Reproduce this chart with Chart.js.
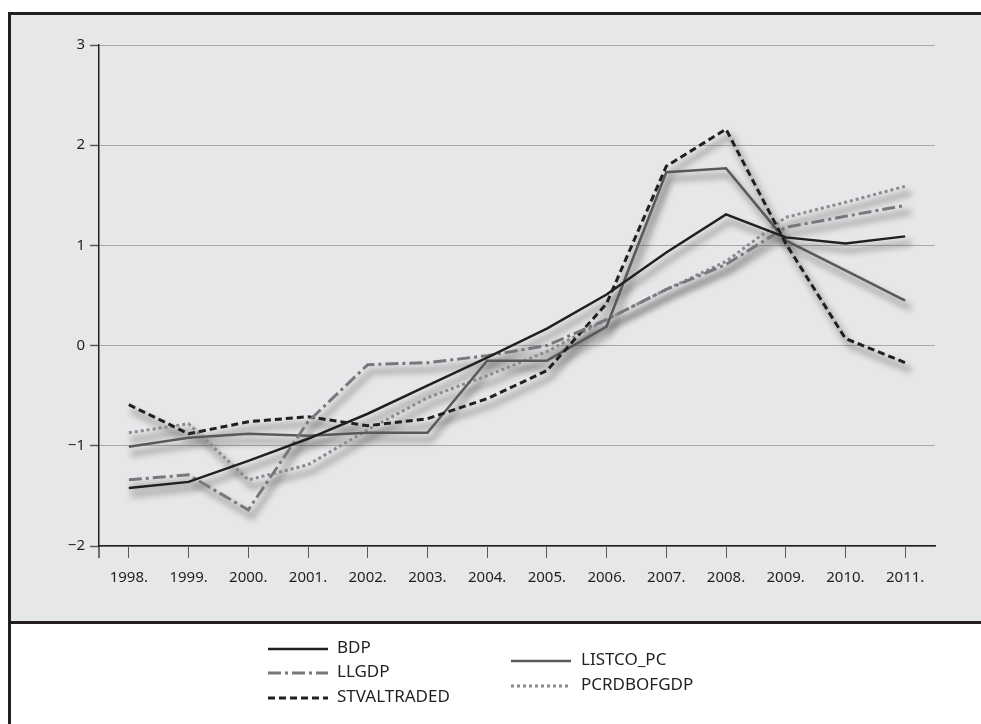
<!DOCTYPE html>
<html>
<head>
<meta charset="utf-8">
<script src="https://cdn.jsdelivr.net/npm/chart.js@4.4.1/dist/chart.umd.min.js"></script>
<style>
  html, body { margin: 0; padding: 0; background: #ffffff; }
  body { width: 981px; height: 724px; position: relative; overflow: hidden; font-family: "Noto Sans", sans-serif; }
  #panel { position: absolute; left: 8px; top: 12px; width: 973px; height: 609px; background: #e6e7e8;
           border-top: 3px solid #231f20; border-left: 3px solid #231f20; box-sizing: border-box; }
  #sep { position: absolute; left: 8px; top: 621px; width: 973px; height: 3px; background: #231f20; }
  #leftb { position: absolute; left: 8px; top: 621px; width: 3px; height: 103px; background: #231f20; }
  #wrap { position: absolute; left: 0; top: 0; width: 981px; height: 724px; }
  .lg { position: absolute; font-size: 17px; color: #231f20; line-height: 20px; white-space: nowrap; }
  .lg svg { position: absolute; left: 0; top: 0; }
  .lg span { position: absolute; top: 0; }
</style>
</head>
<body>
<div id="panel"></div>
<div id="sep"></div>
<div id="leftb"></div>
<div id="wrap"><canvas id="c" width="981" height="724"></canvas></div>
<div id="legend"></div>
<script>
const years = ["1998.", "1999.", "2000.", "2001.", "2002.", "2003.", "2004.", "2005.", "2006.", "2007.", "2008.", "2009.", "2010.", "2011."];
const BDP         = [-1.42, -1.36, -1.15, -0.93, -0.68, -0.40, -0.12, 0.17, 0.51, 0.93, 1.31, 1.08, 1.02, 1.09];
const LLGDP       = [-1.34, -1.29, -1.64, -0.76, -0.19, -0.17, -0.10, 0.00, 0.26, 0.56, 0.81, 1.18, 1.29, 1.40];
const STVALTRADED = [-0.59, -0.88, -0.76, -0.71, -0.80, -0.73, -0.53, -0.25, 0.42, 1.79, 2.16, 1.02, 0.07, -0.17];
const LISTCO_PC   = [-1.01, -0.92, -0.88, -0.90, -0.87, -0.87, -0.15, -0.15, 0.19, 1.73, 1.77, 1.05, 0.75, 0.45];
const PCRDBOFGDP  = [-0.87, -0.78, -1.34, -1.19, -0.84, -0.52, -0.30, -0.06, 0.26, 0.56, 0.84, 1.28, 1.43, 1.59];
const yTicks = [3, 2, 1, 0, -1, -2];

const seriesStyle = [
  { label: "BDP",         data: BDP,         color: "#231f20", width: 2.5, dash: [] },
  { label: "LLGDP",       data: LLGDP,       color: "#77787b", width: 3,   dash: [13, 4, 3, 4] },
  { label: "STVALTRADED", data: STVALTRADED, color: "#231f20", width: 3,   dash: [7, 4] },
  { label: "LISTCO_PC",   data: LISTCO_PC,   color: "#58595b", width: 2.5, dash: [] },
  { label: "PCRDBOFGDP",  data: PCRDBOFGDP,  color: "#8a8b8e", width: 3,   dash: [3, 3] }
];

// soft drop shadow under all lines, built from the points the library placed
const shadowPlugin = {
  id: "shadow",
  beforeDatasetsDraw(chart) {
    const ctx = chart.ctx;
    ctx.save();
    try { ctx.filter = "blur(3px)"; } catch (e) {}
    ctx.strokeStyle = "rgba(50,50,50,0.36)";
    ctx.lineWidth = 5;
    ctx.lineJoin = "round";
    ctx.lineCap = "round";
    chart.data.datasets.forEach((ds, i) => {
      const meta = chart.getDatasetMeta(i);
      ctx.beginPath();
      meta.data.forEach((pt, j) => {
        const x = pt.x + 4, y = pt.y + 7;
        if (j === 0) ctx.moveTo(x, y); else ctx.lineTo(x, y);
      });
      ctx.stroke();
    });
    ctx.restore();
  }
};

const yAxisExt = {
  id: "yext",
  afterDraw(chart) {
    const ctx = chart.ctx, a = chart.chartArea;
    ctx.save();
    ctx.strokeStyle = "#231f20";
    ctx.lineWidth = 1.2;
    ctx.beginPath();
    ctx.moveTo(a.left, a.bottom);
    ctx.lineTo(a.left, a.bottom + 12);
    ctx.stroke();
    ctx.restore();
  }
};

new Chart(document.getElementById("c"), {
  type: "line",
  data: {
    labels: years,
    datasets: seriesStyle.map(s => ({
      label: s.label,
      data: s.data,
      borderColor: s.color,
      borderWidth: s.width,
      borderDash: s.dash,
      pointRadius: 0,
      tension: 0,
      fill: false
    }))
  },
  options: {
    responsive: false,
    animation: false,
    layout: { padding: { left: 0, top: 45, right: 46, bottom: 128 } },
    plugins: { legend: { display: false }, tooltip: { enabled: false } },
    scales: {
      x: {
        offset: true,
        afterFit(scale) { scale.height = 50; },
        grid: { display: true, drawOnChartArea: false, drawTicks: true, tickLength: 12, tickColor: "#58595b", tickWidth: 1 },
        border: { display: true, color: "#231f20", width: 1.5 },
        ticks: { color: "#231f20", font: { family: "Noto Sans", size: 15 }, padding: 11, maxRotation: 0, autoSkip: false }
      },
      y: {
        min: -2, max: 3,
        afterFit(scale) { scale.width = 99; },
        afterBuildTicks(scale) { scale.ticks = yTicks.map(v => ({ value: v })); },
        grid: { color: "#a7a8aa", lineWidth: 1, borderDash: [1, 2], drawTicks: true, tickLength: 9, tickColor: "#58595b", tickBorderDash: [], tickWidth: 1.5 },
        border: { display: true, color: "#231f20", width: 1.5 },
        ticks: { color: "#231f20", font: { family: "Noto Sans", size: 15 }, padding: 5,
                 callback: v => (v < 0 ? "\u2212" + Math.abs(v) : String(v)) }
      }
    }
  },
  plugins: [shadowPlugin, yAxisExt]
});

// Legend (HTML, real text)
const legendPos = [
  { x: 268, y: 649, tx: 337 }, { x: 268, y: 673, tx: 337 }, { x: 268, y: 698, tx: 337 },
  { x: 511, y: 661, tx: 581 }, { x: 511, y: 686, tx: 581 }
];
const lg = document.getElementById("legend");
seriesStyle.forEach((s, i) => {
  const p = legendPos[i];
  const d = document.createElement("div");
  d.className = "lg";
  d.style.left = p.x + "px";
  d.style.top = (p.y - 10) + "px";
  d.style.width = "240px";
  d.style.height = "20px";
  const dash = s.dash.length ? ` stroke-dasharray="${s.dash.join(",")}"` : "";
  d.innerHTML = `<svg width="62" height="20"><line x1="0" y1="10" x2="60" y2="10" stroke="${s.color}" stroke-width="${s.width}"${dash}/></svg><span style="left:${p.tx - p.x}px;top:-2px">${s.label}</span>`;
  lg.appendChild(d);
});
</script>
</body>
</html>
